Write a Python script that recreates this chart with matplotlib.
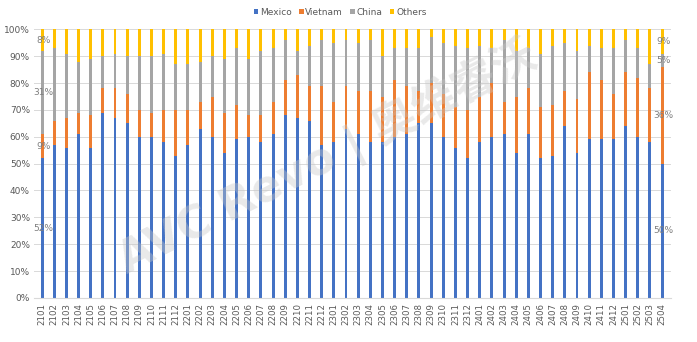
import numpy as np
import matplotlib
matplotlib.use('Agg')
from matplotlib import pyplot as plt
from matplotlib.ticker import PercentFormatter

# monthly labels yymm
months = ['2101', '2102', '2103', '2104', '2105', '2106', '2107', '2108', '2109', '2110', '2111', '2112',
          '2201', '2202', '2203', '2204', '2205', '2206', '2207', '2208', '2209', '2210', '2211', '2212',
          '2301', '2302', '2303', '2304', '2305', '2306', '2307', '2308', '2309', '2310', '2311', '2312',
          '2401', '2402', '2403', '2404', '2405', '2406', '2407', '2408', '2409', '2410', '2411', '2412',
          '2501', '2502', '2503', '2504']

# share of each origin, %
mexico = [52, 57, 56, 61, 56, 69, 67, 65, 60, 60, 58, 53,
          57, 63, 60, 54, 59, 60, 58, 61, 68, 67, 66, 57,
          58, 63, 61, 58, 58, 60, 61, 65, 65, 60, 56, 52,
          58, 60, 61, 54, 61, 52, 53, 64, 54, 59, 59, 59,
          64, 60, 58, 50]
vietnam = [9, 9, 11, 8, 12, 9, 11, 11, 10, 9, 12, 17,
           13, 10, 15, 15, 13, 8, 10, 12, 13, 16, 13, 22,
           15, 16, 16, 19, 17, 21, 18, 12, 15, 16, 15, 18,
           17, 20, 12, 21, 17, 19, 19, 13, 20, 25, 22, 17,
           20, 22, 20, 36]
china = [31, 27, 24, 19, 21, 12, 13, 14, 20, 21, 21, 17,
         17, 15, 15, 20, 21, 21, 24, 20, 15, 9, 15, 17,
         22, 17, 18, 19, 15, 12, 14, 16, 17, 19, 23, 23,
         19, 13, 23, 17, 15, 20, 22, 18, 18, 10, 12, 17,
         12, 11, 9, 5]
others = [8, 7, 9, 12, 11, 10, 9, 10, 10, 10, 9, 13,
          13, 12, 10, 11, 7, 11, 8, 7, 4, 8, 6, 4,
          5, 4, 5, 4, 10, 7, 7, 7, 3, 5, 6, 7,
          6, 7, 4, 8, 7, 9, 6, 5, 8, 6, 7, 7,
          4, 7, 13, 9]

series = [('Mexico', mexico, '#4472C4'),
          ('Vietnam', vietnam, '#ED7D31'),
          ('China', china, '#A5A5A5'),
          ('Others', others, '#FFC000')]

x = np.arange(len(months))

fig = plt.figure(figsize=(6.97, 3.42), dpi=100)
ax = fig.add_axes([0.049, 0.129, 0.914, 0.785])

bottom = np.zeros(len(months))
for name, vals, color in series:
    vals = np.array(vals, dtype=float)
    ax.bar(x, vals, width=0.24, bottom=bottom, color=color, label=name, zorder=2)
    # value labels on first and last month
    for i in (0, len(months) - 1):
        ax.text(x[i] + 0.1, bottom[i] + vals[i] / 2, '%d%%' % vals[i],
                ha='center', va='center', fontsize=6.5, color='#7F7F7F', zorder=3)
    bottom += vals

ax.set_ylim(0, 100)
ax.set_xlim(-0.65, len(months) - 0.25)
ax.yaxis.set_major_locator(plt.MultipleLocator(10))
ax.yaxis.set_major_formatter(PercentFormatter(decimals=0))
ax.set_xticks(x)
ax.set_xticklabels(months, rotation=90)
ax.tick_params(axis='y', labelsize=6.5, colors='#595959', length=0, pad=3)
ax.tick_params(axis='x', labelsize=6.2, colors='#595959', length=0, pad=4)
ax.grid(axis='y', color='#D9D9D9', linewidth=0.7, zorder=0)
for s in ['top', 'right', 'left']:
    ax.spines[s].set_visible(False)
ax.spines['bottom'].set_color('#D9D9D9')

leg = fig.legend(loc='upper center', bbox_to_anchor=(0.488, 1.0), ncol=4, frameon=False,
                 fontsize=6.5, handlelength=0.5, handleheight=0.5, handletextpad=0.2,
                 columnspacing=0.8)
for t in leg.get_texts():
    t.set_color('#595959')

# watermark
fig.text(0.47, 0.54, 'AVC Revo | 奥维睿沃', fontsize=32, fontweight='bold',
         color='#C8C8C8', alpha=0.4, rotation=27, ha='center', va='center',
         family=['DejaVu Sans', 'Noto Sans CJK SC'], zorder=5)

plt.savefig('out.png', dpi=100)
